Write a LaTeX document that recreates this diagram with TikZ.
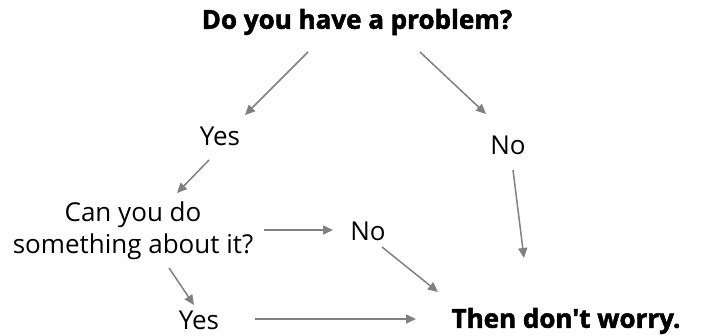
\documentclass[tikz,border=0pt]{standalone}
\usepackage{fontspec}
\setmainfont{Open Sans}[Ligatures=TeXOff]
\usetikzlibrary{arrows.meta,calc}
\definecolor{arrgray}{HTML}{808080}
\begin{document}
\begin{tikzpicture}[x=1pt,y=-1pt,
  lbl/.style={inner sep=0pt,font=\fontsize{26}{32}\selectfont},
  bold/.style={inner sep=0pt,font=\fontsize{26}{30}\selectfont\bfseries\addfontfeature{FakeBold=2}},
  arr/.style={draw=arrgray,line width=1.5pt,-{Triangle[length=10pt,width=9pt]},arrgray}]
\useasboundingbox (0,0) rectangle (701,335);
\node[bold] (q1) at (357,22) {Do you have a problem?};
\node[lbl] (y1) at (220,136) {Yes};
\node[lbl] (n1) at (508,145) {No};
\node[lbl,align=center] (q2) at (133,231) {Can you do\\something about it?};
\node[lbl] (n2) at (368,231) {No};
\node[lbl] (y2) at (199,320) {Yes};
\node[bold] (end) at (566,321) {Then don't worry.};
\draw[arr] ($(q1)+(-49,30)$) -- ($(y1)+(25,-21)$);
\draw[arr] ($(q1)+(63,30)$) -- ($(n1)+(-22,-31)$);
\draw[arr] ($(y1)+(-11,24)$) -- ($(q2)+(44,-38)$);
\draw[arr] ($(n1)+(5,25)$) -- ($(end)+(-42,-63)$);
\draw[arr] ($(q2)+(131,-1)$) -- ($(n2)+(-35,-1)$);
\draw[arr] ($(n2)+(14,16)$) -- ($(end)+(-128,-29)$);
\draw[arr] ($(q2)+(36,37)$) -- ($(y2)+(-5,-15)$);
\draw[arr] ($(y2)+(56,-1)$) -- ($(end)+(-150,-2)$);
\end{tikzpicture}
\end{document}
